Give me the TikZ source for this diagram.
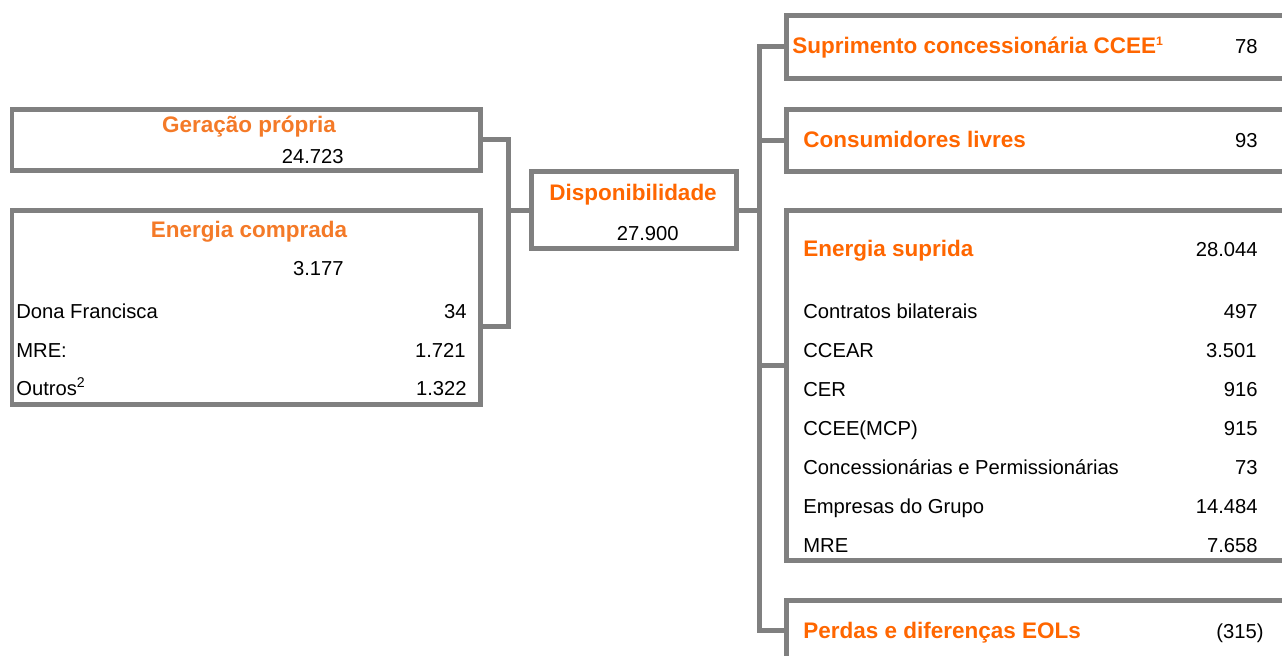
\documentclass[tikz,border=0pt]{standalone}
\usepackage{fontspec}
\setmainfont{Liberation Sans}
\usepackage{tikz}
\usetikzlibrary{fit,calc}
\definecolor{laranja}{RGB}{255,102,0}
\definecolor{laranjaclaro}{RGB}{244,122,40}
\definecolor{cinza}{RGB}{128,128,128}
\begin{document}
\begin{tikzpicture}[x=0.02cm,y=-0.02cm,line join=miter]%fluxo de energia

      \tikzstyle{box}=[draw=cinza,line width=0.1cm,inner sep=0pt]
      \tikzstyle{link}=[draw=cinza,line width=0.1cm]
      \tikzstyle{valor}=[inner sep=0pt,font=\fontsize{11.5pt}{13pt}\selectfont]
      \tikzstyle{titulo}=[inner sep=0pt,text=laranja,font=\bfseries\fontsize{12.8pt}{15pt}\selectfont]
      \tikzstyle{titulo claro}=[titulo,text=laranjaclaro]

      \useasboundingbox (0,0) rectangle (1282,656);
      \clip (0,0) rectangle (1282,656);

      %Origem da energia
      \node [box,fit={(12,109) (480,170)}] (gp) {};
      \node [titulo claro,anchor=base] (gpt) at (249,132) {Geração própria};
      \node [valor,anchor=base east] (gpv) at (344,163) {24.723};

      \node [box,fit={(12,210) (480,404.5)}] (ec) {};
      \node [titulo claro,anchor=base] (ect) at (249,237) {Energia comprada};
      \node [valor,anchor=base east] (ecv) at (344,275) {3.177};
      \node [valor,anchor=base west] (df) at (16,318) {Dona Francisca};
      \node [valor,anchor=base east] (dfv) at (467,318) {34};
      \node [valor,anchor=base west] (mre) at (16,357) {MRE:};
      \node [valor,anchor=base east] (mrev) at (466,357) {1.721};
      \node [valor,anchor=base west] (out) at (16,395) {Outros\textsuperscript{2}};
      \node [valor,anchor=base east] (outv) at (467,395) {1.322};

      %Disponibilidade
      \node [box,fit={(531,171.5) (736,248.5)}] (disp) {};
      \node [titulo,anchor=base] (dispt) at (633,200) {Disponibilidade};
      \node [valor,anchor=base east] (dispv) at (679,240) {27.900};

      %Destino da energia
      \node [box,fit={(786,15) (1300,78)}] (sup) {};
      \node [titulo,anchor=base west] (supt) at (792,53) {Suprimento concessionária CCEE\textsuperscript{\fontsize{7pt}{8pt}\selectfont 1}};
      \node [valor,anchor=base east] (supv) at (1258,53) {78};

      \node [box,fit={(786,109.5) (1300,171)}] (cons) {};
      \node [titulo,anchor=base west] (const) at (803,147) {Consumidores livres};
      \node [valor,anchor=base east] (consv) at (1258,147) {93};

      \node [box,fit={(786,210) (1300,560.5)}] (es) {};
      \node [titulo,anchor=base west] (est) at (803,256) {Energia suprida};
      \node [valor,anchor=base east] (esv) at (1258,256) {28.044};
      \node [valor,anchor=base west] (cb) at (803,318) {Contratos bilaterais};
      \node [valor,anchor=base east] (cbv) at (1258,318) {497};
      \node [valor,anchor=base west] (ccear) at (803,357) {CCEAR};
      \node [valor,anchor=base east] (ccearv) at (1257,357) {3.501};
      \node [valor,anchor=base west] (cer) at (803,396) {CER};
      \node [valor,anchor=base east] (cerv) at (1258,396) {916};
      \node [valor,anchor=base west] (mcp) at (803,435) {CCEE(MCP)};
      \node [valor,anchor=base east] (mcpv) at (1258,435) {915};
      \node [valor,anchor=base west] (cp) at (803,474) {Concessionárias e Permissionárias};
      \node [valor,anchor=base east] (cpv) at (1258,474) {73};
      \node [valor,anchor=base west] (eg) at (803,513) {Empresas do Grupo};
      \node [valor,anchor=base east] (egv) at (1258,513) {14.484};
      \node [valor,anchor=base west] (mre2) at (803,552) {MRE};
      \node [valor,anchor=base east] (mre2v) at (1258,552) {7.658};

      \node [box,fit={(786,600.5) (1300,700)}] (pd) {};
      \node [titulo,anchor=base west] (pdt) at (803,638) {Perdas e diferenças EOLs};
      \node [valor,anchor=base east] (pdv) at (1264,638) {(315)};

      %ligacoes
      \coordinate (jl) at (508,210);
      \coordinate (jr) at (759,210);
      \coordinate (ecout) at (ec.east |- 0,326);
      \coordinate (esin) at (es.west |- 0,365.5);
      \coordinate (pdin) at (pd.west |- 0,630);

      \draw [link] (gp.east) -| (jl) -- (disp.west);
      \draw [link] (ecout) -| (jl);
      \draw [link] (disp.east) -- (jr);
      \draw [link] (sup.west) -| (jr) |- (pdin);
      \draw [link] (cons.west) -- (cons.west -| jr);
      \draw [link] (esin) -- (esin -| jr);

\end{tikzpicture}
\end{document}
